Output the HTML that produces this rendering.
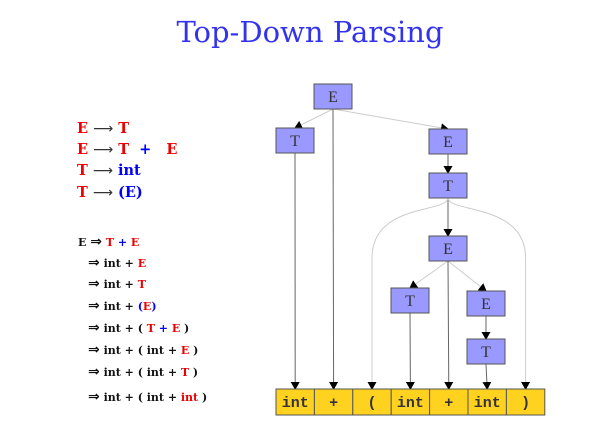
<!DOCTYPE html>
<html><head><meta charset="utf-8"><style>
body{margin:0;background:#fff;width:610px;height:439px;overflow:hidden;font-family:"DejaVu Serif",serif}
svg{position:absolute;left:0;top:0}
.ar{font-family:"DejaVu Sans",sans-serif;font-weight:normal;fill:#333}
.dr{font-family:"DejaVu Sans",sans-serif;font-weight:bold;font-size:14px;fill:#111}
</style></head><body>
<svg width="610" height="439">
<defs><marker id="ah" markerWidth="8" markerHeight="9" refX="7" refY="4.5" orient="auto" markerUnits="userSpaceOnUse"><path d="M0,0 L8,4.5 L0,9 Z" fill="#000"/></marker></defs>
<text x="310" y="42" text-anchor="middle" font-size="29" fill="#3333ee" font-family="DejaVu Serif, serif">Top-Down Parsing</text>
<g font-weight="bold" font-size="14.5" font-family="DejaVu Serif, serif">
<text x="77" y="133" fill="#e00">E <tspan class="ar" font-size="14">⟶</tspan> T</text>
<text x="77" y="154" fill="#e00">E <tspan class="ar" font-size="14">⟶</tspan> T <tspan fill="#00f">&#160;+ </tspan>&#160; E</text>
<text x="77" y="175" fill="#e00">T <tspan class="ar" font-size="14">⟶</tspan> <tspan fill="#00f">int</tspan></text>
<text x="77" y="197" fill="#e00">T <tspan class="ar" font-size="14">⟶</tspan> <tspan fill="#00f">(E)</tspan></text>
</g>
<g font-weight="bold" font-size="11" font-family="DejaVu Serif, serif" fill="#111">
<text x="78" y="246">E <tspan class="dr">⇒</tspan> <tspan fill="#e00">T</tspan> <tspan fill="#00f">+</tspan> <tspan fill="#e00">E</tspan></text>
<text x="88" y="267"><tspan class="dr">⇒</tspan> int + <tspan fill="#e00">E</tspan></text>
<text x="88" y="288"><tspan class="dr">⇒</tspan> int + <tspan fill="#e00">T</tspan></text>
<text x="88" y="310"><tspan class="dr">⇒</tspan> int + <tspan fill="#00f">(</tspan><tspan fill="#e00">E</tspan><tspan fill="#00f">)</tspan></text>
<text x="88" y="332"><tspan class="dr">⇒</tspan> int + ( <tspan fill="#e00">T</tspan> <tspan fill="#00f">+</tspan> <tspan fill="#e00">E</tspan> )</text>
<text x="88" y="354"><tspan class="dr">⇒</tspan> int + ( int + <tspan fill="#e00">E</tspan> )</text>
<text x="88" y="376"><tspan class="dr">⇒</tspan> int + ( int + <tspan fill="#e00">T</tspan> )</text>
<text x="88" y="401"><tspan class="dr">⇒</tspan> int + ( int + <tspan fill="#e00">int</tspan> )</text>
</g>
<g id="edges"></g>
<g id="nodes"></g>
<g id="toks"></g>
</svg>
<script>
const nodeLabels=["E","T","E","T","E","T","E","T"];
const nodeX=[314,276,429,429,429,391,467,467];
const nodeY=[84,128,129,173,236,288,291,339];
const tokens=["int","+","(","int","+","int",")"];
const NS="http://www.w3.org/2000/svg";
function mk(t,a,p){const e=document.createElementNS(NS,t);for(const k in a)e.setAttribute(k,a[k]);p.appendChild(e);return e;}
const W=38,H=25,tx0=276,tw=38.4,ty=389;
const edges=document.getElementById('edges'),nodes=document.getElementById('nodes'),toks=document.getElementById('toks');
const cx=i=>nodeX[i]+W/2, tcx=j=>tx0+tw*j+tw/2;
const nn=[[0,1,1],[0,2,1],[2,3,0],[3,4,0],[4,5,1],[4,6,1],[6,7,0]];
nn.forEach(([a,b,l])=>{const ln=mk('line',{x1:cx(a),y1:nodeY[a]+H,x2:cx(b),y2:nodeY[b],stroke:l?'#ccc':'#666','stroke-width':1,'marker-end':'url(#ah)'},edges);

});
const nt=[[1,0],[0,1],[5,3],[4,4],[7,5]];
nt.forEach(([a,j])=>{const ln=mk('line',{x1:cx(a),y1:nodeY[a]+H,x2:tcx(j),y2:ty,stroke:'#666','stroke-width':1,'marker-end':'url(#ah)'},edges);

});
[[2],[6]].forEach(([j])=>{const x0=cx(3),y0=nodeY[3]+H,x1=tcx(j);
const p=mk('path',{d:`M${x0},${y0} C${x0},${y0+15} ${x1},${y0+5} ${x1},${y0+60} L${x1},${ty}`,fill:'none',stroke:'#ccc','stroke-width':1,'marker-end':'url(#ah)'},edges);

});
nodeLabels.forEach((s,i)=>{const g=mk('g',{},nodes);


mk('rect',{x:nodeX[i],y:nodeY[i],width:W,height:H,fill:'#9999ff',stroke:'#555','stroke-width':1},g);
const t=mk('text',{x:cx(i),y:nodeY[i]+18,'text-anchor':'middle','font-size':16,fill:'#333','font-family':'Liberation Serif, serif'},g);t.textContent=s;});
tokens.forEach((s,j)=>{const g=mk('g',{},toks);


mk('rect',{x:tx0+tw*j,y:ty,width:tw,height:26,fill:'#ffd21f',stroke:'#555','stroke-width':1},g);
const t=mk('text',{x:tcx(j),y:ty+18,'text-anchor':'middle','font-size':15,'font-weight':'bold',fill:'#333','font-family':'Liberation Mono, monospace'},g);t.textContent=s;});
</script>
</body></html>
